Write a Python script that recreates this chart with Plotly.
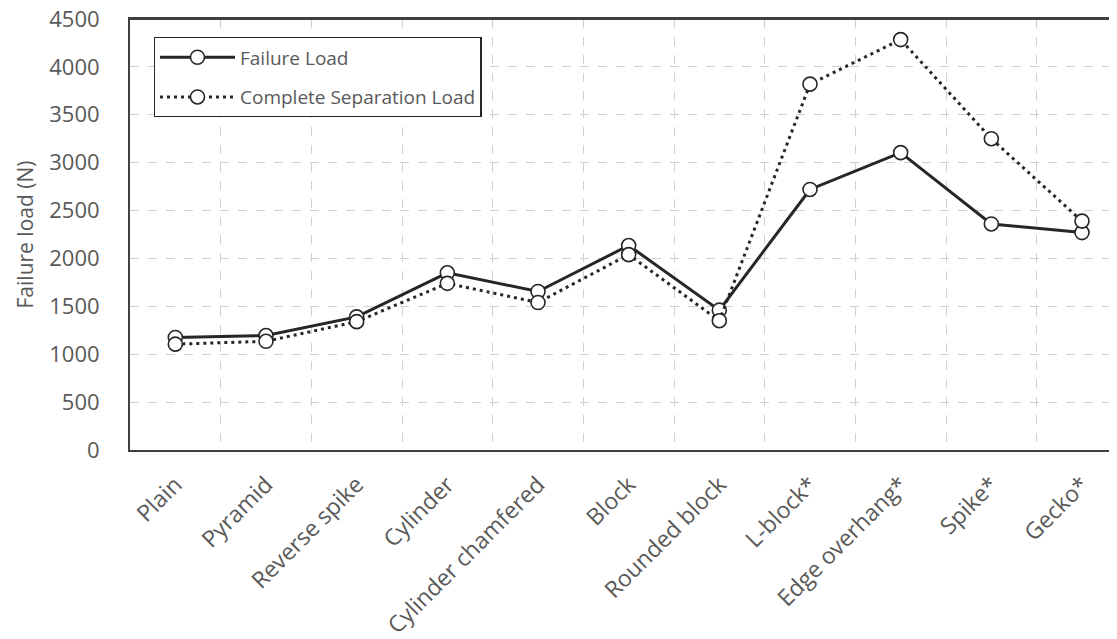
import plotly.graph_objects as go

categories = ["Plain", "Pyramid", "Reverse spike", "Cylinder", "Cylinder chamfered",
              "Block", "Rounded block", "L-block*", "Edge overhang*", "Spike*", "Gecko*"]
failure_load = [1175, 1195, 1390, 1850, 1655, 2135, 1460, 2720, 3105, 2360, 2270]
separation_load = [1105, 1135, 1340, 1740, 1540, 2040, 1350, 3820, 4285, 3250, 2390]
y_ticks = [0, 500, 1000, 1500, 2000, 2500, 3000, 3500, 4000, 4500]

FONT = "Open Sans"
TXT = "#595959"
LINE = "#262626"

fig = go.Figure()
fig.add_trace(go.Scatter(
    x=categories, y=failure_load, name="Failure Load", mode="lines+markers",
    line=dict(color=LINE, width=3),
    marker=dict(size=14, color="white", line=dict(color=LINE, width=1.6)),
    legendgroup="a"))
fig.add_trace(go.Scatter(
    x=categories, y=separation_load, name="Complete Separation Load", mode="lines+markers",
    line=dict(color=LINE, width=3, dash="3px,4px"),
    marker=dict(size=14, color="white", line=dict(color=LINE, width=1.6)),
    legendgroup="b"))

# page body has an 8px margin, so the figure is offset by 8px
fig.update_layout(
    width=1109, height=631,
    margin=dict(l=122, r=0, t=11, b=189),
    paper_bgcolor="white", plot_bgcolor="white",
    font=dict(family=FONT, color=TXT, size=21),
    showlegend=True,
    legend=dict(x=0.024, y=0.958, xanchor="left", yanchor="top",
                bordercolor="#262626", borderwidth=1.3, bgcolor="white",
                font=dict(size=19, color=TXT, family=FONT),
                tracegroupgap=12, traceorder="grouped",
                itemwidth=75),
    xaxis=dict(type="category", range=[-0.5, 10.386], tickson="boundaries",
               showgrid=True, gridcolor="#d0d0d0", griddash="dash", gridwidth=1.3,
               showline=True, linecolor="#404040", linewidth=2, mirror=True,
               ticks="", tickangle=-45, tickfont=dict(size=23, color=TXT),
               ticklabelstandoff=10, zeroline=False, automargin=False),
    yaxis=dict(range=[0, 4500], tickvals=y_ticks, showgrid=True, gridcolor="#d0d0d0",
               griddash="dash", gridwidth=1.3, showline=True, linecolor="#404040",
               linewidth=2, mirror=False, ticks="", tickfont=dict(size=22, color=TXT),
               ticklabelstandoff=24, zeroline=False, automargin=False,
               ticklabeloverflow="allow",
               title=dict(text="Failure load (N)", font=dict(size=21, color=TXT), standoff=10)),
)
# top frame line of the plot area
fig.add_shape(type="line", xref="paper", yref="paper", x0=0, x1=1, y0=1, y1=1,
              line=dict(color="#404040", width=2), layer="above")

fig.write_html("out.html")
